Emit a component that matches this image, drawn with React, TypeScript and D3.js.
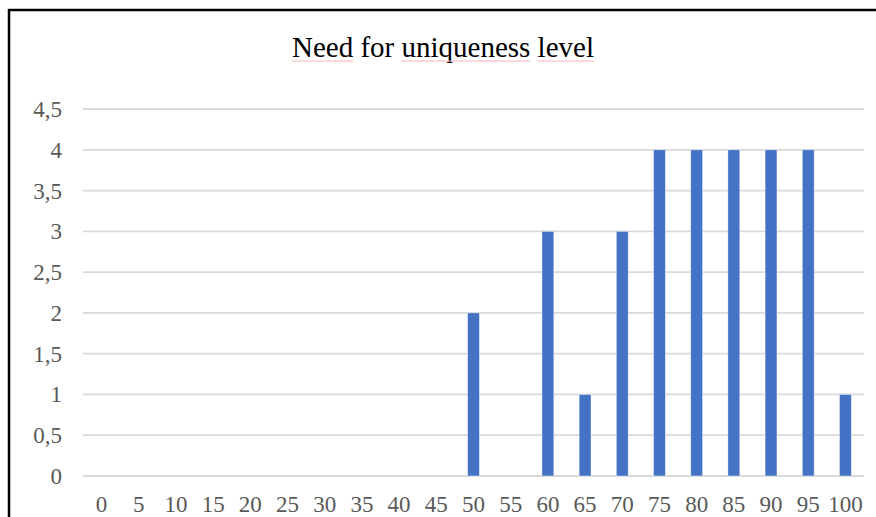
import React, { useEffect, useRef } from "react";
import * as d3 from "d3";

const title = "Need for uniqueness level";
const categories = ["0","5","10","15","20","25","30","35","40","45","50","55","60","65","70","75","80","85","90","95","100"];
const values = [0,0,0,0,0,0,0,0,0,0,2,0,3,1,3,4,4,4,4,4,1];
const yTicks = [0,0.5,1,1.5,2,2.5,3,3.5,4,4.5];
const misspelled = ["Need","uniqueness","level"];

const W = 876, H = 517;

export default function App() {
  const ref = useRef<SVGSVGElement>(null);
  useEffect(() => {
    const svg = d3.select(ref.current);
    svg.selectAll("*").remove();
    const left = 83, right = 864, top = 109, bottom = 476;
    const x = d3.scaleBand<string>().domain(categories).range([left, right]).paddingInner(0.68).paddingOuter(0.34);
    const y = d3.scaleLinear().domain([0, 4.5]).range([bottom, top]);
    const font = "'Liberation Serif','Times New Roman',serif";

    svg.append("rect").attr("x", 0).attr("y", 0).attr("width", W).attr("height", H).attr("fill", "#fff");

    // grid
    svg.append("g").selectAll("line").data(yTicks).join("line")
      .attr("x1", left).attr("x2", right)
      .attr("y1", d => y(d)).attr("y2", d => y(d))
      .attr("stroke", "#D9D9D9").attr("stroke-width", 1.8);

    // y labels
    svg.append("g").selectAll("text").data(yTicks).join("text")
      .attr("x", 62).attr("y", d => y(d)).attr("dy", "0.35em")
      .attr("text-anchor", "end").attr("font-family", font).attr("font-size", 23)
      .attr("fill", "#595959")
      .text(d => String(d).replace(".", ","));

    // bars
    svg.append("g").selectAll("rect").data(values.map((v, i) => ({ c: categories[i], v })).filter(d => d.v > 0)).join("rect")
      .attr("x", d => x(d.c)!).attr("width", x.bandwidth())
      .attr("y", d => y(d.v)).attr("height", d => y(0) - y(d.v))
      .attr("fill", "#4472C4").attr("stroke", "rgba(255,255,255,0.55)").attr("stroke-width", 0.8);

    // x labels
    svg.append("g").selectAll("text").data(categories).join("text")
      .attr("x", d => x(d)! + x.bandwidth() / 2).attr("y", 512)
      .attr("text-anchor", "middle").attr("font-family", font).attr("font-size", 23)
      .attr("fill", "#595959")
      .text(d => d);

    // title
    const t = svg.append("text").attr("x", 443).attr("y", 57)
      .attr("text-anchor", "middle").attr("font-family", font).attr("font-size", 29)
      .attr("fill", "#000").text(title);
    const node = t.node() as SVGTextElement;
    try {
      misspelled.forEach(w => {
        const idx = title.indexOf(w);
        const start = node.getStartPositionOfChar(idx).x;
        const len = node.getSubStringLength(idx, w.length);
        svg.append("line").attr("x1", start).attr("x2", start + len)
          .attr("y1", 61).attr("y2", 61)
          .attr("stroke", "#F4B4B4").attr("stroke-width", 1);
      });
    } catch (e) {}

    // border
    svg.append("line").attr("x1", 8.5).attr("x2", W).attr("y1", 10).attr("y2", 10).attr("stroke", "#000").attr("stroke-width", 2.5);
    svg.append("line").attr("x1", 9).attr("x2", 9).attr("y1", 9).attr("y2", H).attr("stroke", "#000").attr("stroke-width", 2.5);
  }, []);
  return (
    <svg ref={ref} width={W} height={H} style={{ position: "absolute", left: 0, top: 0 }} />
  );
}
